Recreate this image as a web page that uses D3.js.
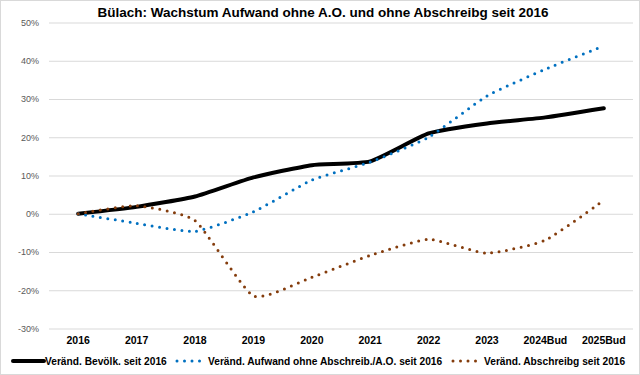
<!DOCTYPE html>
<html><head><meta charset="utf-8">
<script src="https://cdn.jsdelivr.net/npm/d3@7"></script>
<style>body{margin:0;background:#fff}svg{display:block}</style>
</head><body>
<svg id="c" width="640" height="375"></svg>
<script>
const categories = ["2016","2017","2018","2019","2020","2021","2022","2023","2024Bud","2025Bud"];
const bevoelk   = [0, 1.8, 4.5, 9.5, 12.7, 13.7, 21.0, 23.6, 25.2, 27.6];
const aufwand   = [0, -2.5, -4.6, 0.5, 8.8, 13.5, 20.0, 30.8, 37.8, 43.9];
const abschreib = [0, 2.1, -1.8, -21.5, -16.6, -10.9, -6.7, -10.3, -6.9, 3.5];
const yTicks = [-30,-20,-10,0,10,20,30,40,50];
const seriesNames = ["Veränd. Bevölk. seit 2016","Veränd. Aufwand ohne Abschreib./A.O. seit 2016","Veränd. Abschreibg seit 2016"];
const title = "Bülach: Wachstum Aufwand ohne A.O. und ohne Abschreibg seit 2016";

const svg = d3.select("#c");
svg.append("rect").attr("x",0.5).attr("y",0.5).attr("width",639).attr("height",374)
  .attr("fill","#fff").attr("stroke","#d9d9d9");

const L=49, R=633, T=22.5, B=328.5;
const x = d3.scaleBand().domain(categories).range([L,R]);
const y = d3.scaleLinear().domain([-30,50]).range([B,T]);

const yAxis = d3.axisLeft(y).tickValues(yTicks).tickFormat(d=>d+"%").tickSize(-(R-L)).tickPadding(10);
const gy = svg.append("g").attr("transform",`translate(${L},0)`).call(yAxis);
gy.select(".domain").remove();
gy.selectAll(".tick line").attr("stroke","#d9d9d9").attr("stroke-width",1);
gy.selectAll(".tick text").attr("fill","#595959").attr("font-family","Liberation Sans, Arial, sans-serif").attr("font-size","9px");

const xAxis = d3.axisBottom(x).tickSize(0).tickPadding(8);
const gx = svg.append("g").attr("transform",`translate(0,${B})`).call(xAxis);
gx.select(".domain").remove();
gx.selectAll(".tick text").attr("fill","#000").attr("font-family","Liberation Sans, Arial, sans-serif")
  .attr("font-size","10.5px").attr("font-weight","bold");

const line = d3.line().x((d,i)=>x(categories[i])+x.bandwidth()/2).y(d=>y(d)).curve(d3.curveCardinal.tension(0.5));

const styles = [
  {data:bevoelk, color:"#000000", width:4, dash:null},
  {data:aufwand, color:"#0070C0", width:3, dash:"0 7.5"},
  {data:abschreib, color:"#843C0C", width:3, dash:"0 7.5"}
];
styles.forEach(s=>{
  svg.append("path").datum(s.data).attr("d",line).attr("fill","none")
    .attr("stroke",s.color).attr("stroke-width",s.width)
    .attr("stroke-linecap","round").attr("stroke-linejoin","round")
    .attr("stroke-dasharray",s.dash);
});

svg.append("text").attr("x",323).attr("y",17).attr("text-anchor","middle")
  .attr("font-family","Liberation Sans, Arial, sans-serif").attr("font-size","13.5px").attr("font-weight","bold")
  .attr("fill","#000").text(title);

const ly = 361;
const legendPos = [{s0:13,s1:44,t:45},{s0:177,s1:201,t:208},{s0:453,s1:476,t:484}];
styles.forEach((s,i)=>{
  const p = legendPos[i];
  svg.append("line").attr("x1",p.s0).attr("x2",p.s1).attr("y1",ly).attr("y2",ly)
    .attr("stroke",s.color).attr("stroke-width",s.width).attr("stroke-linecap","round")
    .attr("stroke-dasharray",s.dash ? "0 7.5" : null);
  svg.append("text").attr("x",p.t).attr("y",ly+3.5)
    .attr("font-family","Liberation Sans, Arial, sans-serif").attr("font-size","10.2px").attr("font-weight","bold")
    .attr("fill","#000").text(seriesNames[i]);
});
</script>
</body></html>
